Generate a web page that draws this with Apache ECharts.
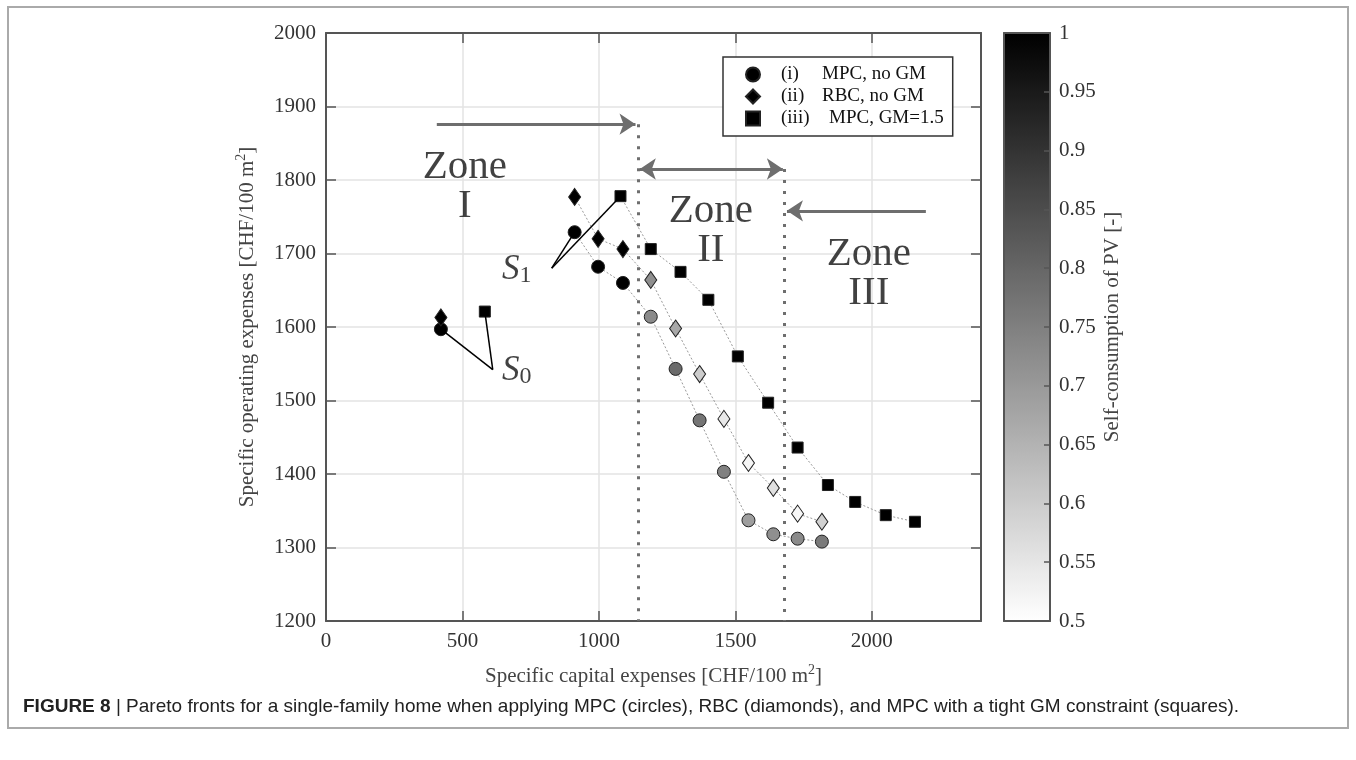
<!DOCTYPE html>
<html>
<head>
<meta charset="utf-8">
<title>Pareto fronts</title>
<script src="https://cdn.jsdelivr.net/npm/echarts@6/dist/echarts.min.js"></script>
<style>
  html, body { margin: 0; padding: 0; background: #fff; }
  #chart { width: 1356px; height: 760px; }
</style>
</head>
<body>
<div id="chart"></div>
<script>
// capital expenses (x), operating expenses (y), self-consumption of PV (colour)
// first entry of each front is the S0 point, second one is S1
const mpcX = [421, 911, 997, 1088, 1190, 1281, 1369, 1458, 1548, 1639, 1728, 1817];
const mpcY = [1597, 1729, 1682, 1660, 1614, 1543, 1473, 1403, 1337, 1318, 1312, 1308];
const mpcSC = [1, 1, 1, 1, 0.73, 0.79, 0.77, 0.75, 0.69, 0.72, 0.73, 0.76];

const rbcX = [421, 911, 997, 1088, 1190, 1281, 1369, 1458, 1548, 1639, 1728, 1817];
const rbcY = [1613, 1777, 1720, 1706, 1664, 1598, 1536, 1475, 1415, 1381, 1346, 1335];
const rbcSC = [1, 1, 1, 1, 0.72, 0.67, 0.6, 0.545, 0.52, 0.56, 0.515, 0.59];

const gmX = [582, 1079, 1190, 1299, 1401, 1509, 1620, 1728, 1839, 1939, 2051, 2158];
const gmY = [1621, 1778, 1706, 1675, 1637, 1560, 1497, 1436, 1385, 1362, 1344, 1335];
const gmSC = [1, 1, 1, 1, 1, 1, 1, 1, 1, 1, 1, 1];

const legendTags = ['(i)', '(ii)', '(iii)'];
const seriesNames = ['MPC, no GM', 'RBC, no GM', 'MPC, GM=1.5'];

const xRange = [0, 2400];
const yRange = [1200, 2000];
const scRange = [0.5, 1];

// zones, arrows and annotations in data coordinates
const zoneBounds = [1143, 1680];
const boundTops = [1876, 1815];
const zoneNames = ['Zone\nI', 'Zone\nII', 'Zone\nIII'];
const zoneX = [509, 1410, 1989];
const zoneY = [1791, 1731, 1672];
const arrowFrom = [406, 1150, 2198];
const arrowTo = [1134, 1674, 1689];
const arrowY = [1876, 1815, 1758];
const arrowBoth = [false, true, false];
const sTipX = [611, 827];
const sTipY = [1542, 1680];
const sLabelX = [645, 645];
const sLabelY = [1541, 1678];

const chart = echarts.init(document.getElementById('chart'));
const serif = 'Liberation Serif';
const axisColor = '#555';

const pts = (xs, ys, sc) => xs.map((x, i) => [x, ys[i], sc[i]]);

// dotted line through a front, S0 is not connected
const frontLine = (xs, ys) => ({
  type: 'line',
  data: xs.slice(1).map((x, i) => [x, ys[i + 1]]),
  symbol: 'none',
  silent: true,
  lineStyle: { color: '#999', width: 1, type: [2, 2] },
  z: 2
});

const front = (i, xs, ys, sc, symbol, size) => ({
  type: 'scatter',
  name: seriesNames[i],
  symbol: symbol,
  symbolSize: size,
  data: pts(xs, ys, sc),
  itemStyle: { color: '#000', borderColor: '#222', borderWidth: 1, opacity: 1 },
  z: 3
});

const axisLine = { show: true, onZero: false, lineStyle: { color: axisColor, width: 2 } };
const tick = { show: true, inside: true, length: 10, lineStyle: { color: axisColor, width: 1.5 } };
const tickLabel = { fontFamily: serif, fontSize: 21, color: '#333' };
const nameRich = {
  t: { fontFamily: serif, fontSize: 21, color: '#444', lineHeight: 26 },
  sup: { fontFamily: serif, fontSize: 14, color: '#444', verticalAlign: 'top' }
};

// S0 / S1 leader lines go from the label tip to the first two points of the fronts
const sLines = [];
[0, 1].forEach(k => {
  sLines.push({ coords: [[sTipX[k], sTipY[k]], [mpcX[k], mpcY[k]]] });
  sLines.push({ coords: [[sTipX[k], sTipY[k]], [gmX[k], gmY[k]]] });
});

const option = {
  backgroundColor: '#fff',
  animation: false,
  graphic: [{
    type: 'rect', silent: true, z: -10,
    shape: { x: 8, y: 7, width: 1340, height: 721 },
    style: { fill: 'none', stroke: '#aaa', lineWidth: 2 }
  }],
  title: {
    left: 18, top: 692,
    text: '{b|FIGURE 8} | Pareto fronts for a single-family home when applying MPC (circles), RBC (diamonds), and MPC with a tight GM constraint (squares).',
    textStyle: {
      fontFamily: 'Liberation Sans', fontSize: 19, fontWeight: 'normal', color: '#222',
      rich: { b: { fontFamily: 'Liberation Sans', fontSize: 19, fontWeight: 'bold', color: '#222' } }
    }
  },
  grid: [
    { left: 326, top: 33, width: 655, height: 588 },
    { left: 1004, top: 33, width: 46, height: 588 }
  ],
  xAxis: [
    {
      type: 'value', gridIndex: 0, position: 'bottom', min: xRange[0], max: xRange[1], interval: 500,
      axisLine, axisTick: tick,
      axisLabel: Object.assign({ margin: 10, formatter: v => (v % 500 === 0 ? String(v) : '') }, tickLabel),
      splitLine: { show: true, lineStyle: { color: '#e3e3e3', width: 1.5 } },
      name: '{t|Specific capital expenses [CHF/100 m}{sup|2}{t|]}',
      nameLocation: 'middle', nameGap: 42, nameTextStyle: { rich: nameRich }
    },
    {
      type: 'value', gridIndex: 0, position: 'top', min: xRange[0], max: xRange[1], interval: 500,
      axisLine, axisTick: tick, axisLabel: { show: false }, splitLine: { show: false }
    },
    {
      type: 'value', gridIndex: 1, position: 'bottom', min: 0, max: 1, z: 10,
      axisLine, axisTick: { show: false }, axisLabel: { show: false }, splitLine: { show: false }
    },
    {
      type: 'value', gridIndex: 1, position: 'top', min: 0, max: 1, z: 10,
      axisLine, axisTick: { show: false }, axisLabel: { show: false }, splitLine: { show: false }
    }
  ],
  yAxis: [
    {
      type: 'value', gridIndex: 0, position: 'left', min: yRange[0], max: yRange[1], interval: 100,
      axisLine, axisTick: tick,
      axisLabel: Object.assign({ margin: 10, formatter: v => String(v) }, tickLabel),
      splitLine: { show: true, lineStyle: { color: '#e3e3e3', width: 1.5 } },
      name: '{t|Specific operating expenses [CHF/100 m}{sup|2}{t|]}',
      nameLocation: 'middle', nameGap: 66, nameTextStyle: { rich: nameRich }
    },
    {
      type: 'value', gridIndex: 0, position: 'right', min: yRange[0], max: yRange[1], interval: 100,
      axisLine, axisTick: tick, axisLabel: { show: false }, splitLine: { show: false }
    },
    {
      type: 'value', gridIndex: 1, position: 'left', min: scRange[0], max: scRange[1], z: 10,
      axisLine, axisTick: { show: false }, axisLabel: { show: false }, splitLine: { show: false }
    },
    {
      type: 'value', gridIndex: 1, position: 'right', min: scRange[0], max: scRange[1], interval: 0.05, z: 10,
      axisLine,
      axisTick: { show: true, inside: true, length: 6, lineStyle: { color: axisColor, width: 1.5 } },
      axisLabel: Object.assign({ margin: 9, formatter: v => String(parseFloat(v.toFixed(2))) }, tickLabel),
      splitLine: { show: false },
      name: 'Self-consumption of PV [-]', nameLocation: 'middle', nameGap: 52, nameRotate: 90,
      nameTextStyle: { fontFamily: serif, fontSize: 21, color: '#444' }
    }
  ],
  visualMap: {
    type: 'continuous', min: scRange[0], max: scRange[1], dimension: 2,
    seriesIndex: [3, 4, 5],
    inRange: { color: ['#ffffff', '#000000'] },
    orient: 'vertical', left: 1004, top: 33, itemWidth: 46, itemHeight: 588,
    padding: 0, calculable: false, hoverLink: false, z: 1
  },
  legend: {
    data: seriesNames.map(n => ({ name: n, itemStyle: { color: '#000' } })),
    orient: 'vertical', left: 723, top: 57,
    padding: [8, 9, 8, 22], itemGap: 3, itemWidth: 14, itemHeight: 14,
    backgroundColor: '#fff', borderColor: '#333', borderWidth: 1.5, borderRadius: 0,
    selectedMode: false, z: 8,
    formatter: name => {
      const i = seriesNames.indexOf(name);
      return '{pad|}{tag' + i + '|' + legendTags[i] + '}{txt|' + name + '}';
    },
    textStyle: {
      rich: {
        pad: { width: 16 },
        tag0: { fontFamily: serif, fontSize: 19, color: '#111', width: 41, lineHeight: 19 },
        tag1: { fontFamily: serif, fontSize: 19, color: '#111', width: 41, lineHeight: 19 },
        tag2: { fontFamily: serif, fontSize: 19, color: '#111', width: 48, lineHeight: 19 },
        txt: { fontFamily: serif, fontSize: 19, color: '#111', lineHeight: 19 }
      }
    }
  },
  series: [
    frontLine(mpcX, mpcY),
    frontLine(rbcX, rbcY),
    frontLine(gmX, gmY),
    front(0, mpcX, mpcY, mpcSC, 'circle', 13),
    front(1, rbcX, rbcY, rbcSC, 'diamond', [12, 17]),
    front(2, gmX, gmY, gmSC, 'rect', 11),
    {
      // zone boundaries
      type: 'lines', coordinateSystem: 'cartesian2d', silent: true, z: 4,
      symbol: 'none',
      lineStyle: { color: '#6e6e6e', width: 3, type: [3, 8], opacity: 1 },
      data: zoneBounds.map((x, k) => ({ coords: [[x, boundTops[k]], [x, yRange[0]]] }))
    },
    {
      // zone arrows
      type: 'lines', coordinateSystem: 'cartesian2d', silent: true, z: 5,
      symbolSize: 16,
      lineStyle: { color: '#6e6e6e', width: 3, opacity: 1 },
      data: arrowFrom.map((x, k) => ({
        coords: [[x, arrowY[k]], [arrowTo[k], arrowY[k]]],
        symbol: [arrowBoth[k] ? 'arrow' : 'none', 'arrow']
      }))
    },
    {
      // S0 / S1 leader lines
      type: 'lines', coordinateSystem: 'cartesian2d', silent: true, z: 5,
      symbol: 'none',
      lineStyle: { color: '#000', width: 1.5, opacity: 1 },
      data: sLines
    },
    {
      // zone names
      type: 'scatter', silent: true, symbolSize: 0, z: 6,
      data: zoneNames.map((n, k) => ({ value: [zoneX[k], zoneY[k]], name: n })),
      label: {
        show: true, position: 'inside', formatter: p => p.name,
        fontFamily: serif, fontSize: 41, lineHeight: 39, color: '#111', align: 'center'
      }
    },
    {
      // S labels
      type: 'scatter', silent: true, symbolSize: 0, z: 6,
      data: sLabelX.map((x, k) => ({ value: [x, sLabelY[k]], name: String(k) })),
      label: {
        show: true, position: 'right', distance: 0,
        formatter: p => '{s|S}{sub|' + p.name + '}',
        rich: {
          s: { fontFamily: serif, fontStyle: 'italic', fontSize: 35, color: '#111', lineHeight: 36 },
          sub: { fontFamily: serif, fontSize: 24, color: '#111', verticalAlign: 'bottom' }
        }
      }
    }
  ]
};

chart.setOption(option);
</script>
</body>
</html>
